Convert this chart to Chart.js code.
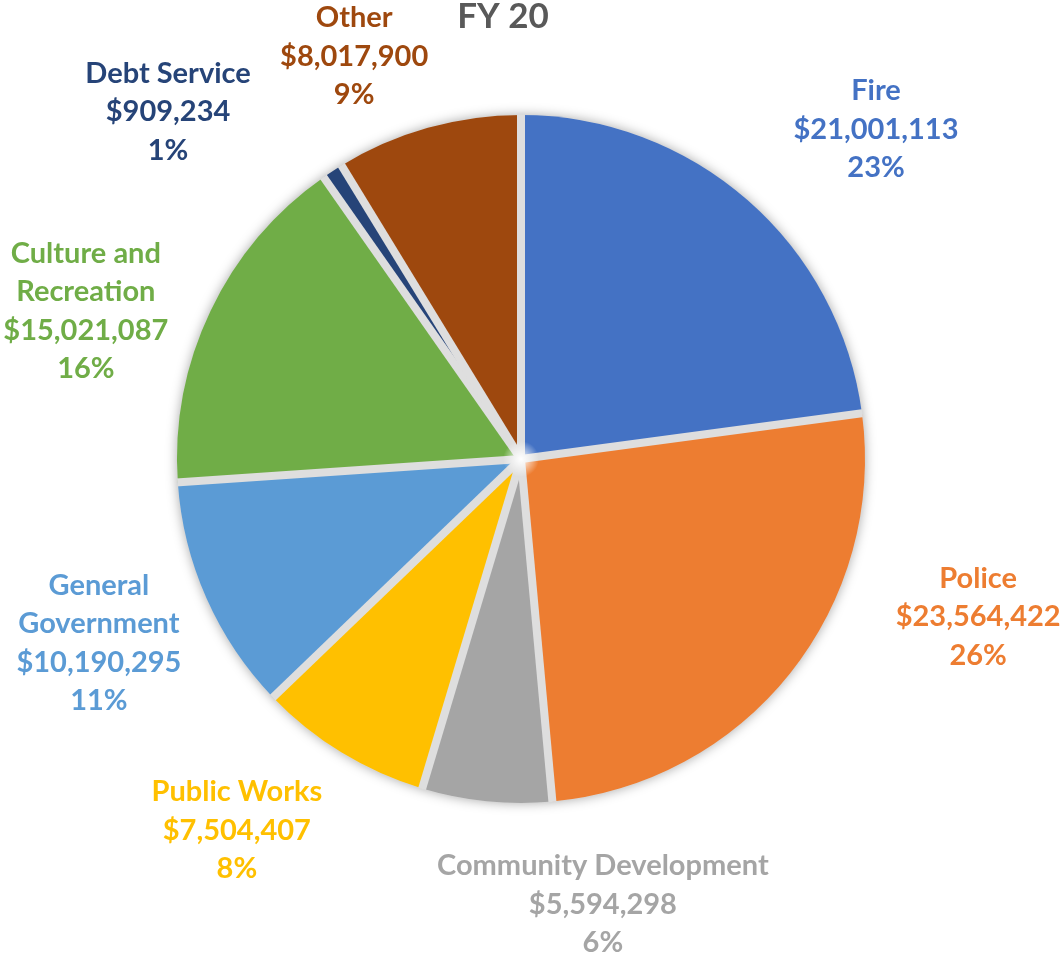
<!DOCTYPE html>
<html>
<head>
<meta charset="utf-8">
<script src="https://cdn.jsdelivr.net/npm/chart.js@4/dist/chart.umd.min.js"></script>
<style>
  html, body { margin: 0; padding: 0; background: #ffffff; }
  #wrap { width: 1061px; height: 958px; position: relative; }
</style>
</head>
<body>
<div id="wrap"><canvas id="pie"></canvas></div>
<script>
// FY 20 expenditures by function
const chartTitle = 'FY 20';
const categories = [
  ['Fire'],
  ['Police'],
  ['Community Development'],
  ['Public Works'],
  ['General', 'Government'],
  ['Culture and', 'Recreation'],
  ['Debt Service'],
  ['Other']
];
const amounts = [21001113, 23564422, 5594298, 7504407, 10190295, 15021087, 909234, 8017900];
const sliceColors = ['#4472C4', '#ED7D31', '#A5A5A5', '#FFC000', '#5B9BD5', '#70AD47', '#264478', '#9E480E'];

// label block centres, in units of the pie radius from the pie centre
const labelOffsets = [
  [1.032, -0.961],
  [1.329, 0.456],
  [0.238, 1.291],
  [-0.826, 1.076],
  [-1.227, 0.532],
  [-1.265, -0.433],
  [-1.026, -1.012],
  [-0.485, -1.174]
];

const total = amounts.reduce((a, b) => a + b, 0);
const money = v => '$' + v.toLocaleString('en-US');
const pct = v => Math.round(v / total * 100) + '%';

const LABEL_FONT = 'bold 29px Lato';
const LINE_H = 38.5;
const SEPARATOR_W = 8;

// soft shadow under the pie, and light gray separators between slices
const pieDecor = {
  id: 'pieDecor',
  beforeDatasetsDraw(chart) {
    const arc = chart.getDatasetMeta(0).data[0];
    if (!arc) return;
    const ctx = chart.ctx;
    ctx.save();
    ctx.shadowColor = 'rgba(0,0,0,0.35)';
    ctx.shadowBlur = 12;
    ctx.fillStyle = '#dedede';
    ctx.beginPath();
    ctx.arc(arc.x, arc.y, arc.outerRadius, 0, Math.PI * 2);
    ctx.fill();
    ctx.restore();
  },
  afterDatasetsDraw(chart) {
    const meta = chart.getDatasetMeta(0);
    const first = meta.data[0];
    if (!first) return;
    const ctx = chart.ctx;
    const cx = first.x, cy = first.y, r = first.outerRadius;
    ctx.save();
    ctx.beginPath();
    ctx.arc(cx, cy, r + 0.5, 0, Math.PI * 2);
    ctx.clip();
    ctx.strokeStyle = '#dedede';
    ctx.lineWidth = SEPARATOR_W;
    ctx.lineCap = 'butt';
    meta.data.forEach(arc => {
      const a = arc.startAngle;
      ctx.beginPath();
      ctx.moveTo(cx, cy);
      ctx.lineTo(cx + Math.cos(a) * (r + 4), cy + Math.sin(a) * (r + 4));
      ctx.stroke();
    });
    const g = ctx.createRadialGradient(cx, cy, 0, cx, cy, 18);
    g.addColorStop(0, 'rgba(255,255,255,1)');
    g.addColorStop(1, 'rgba(255,255,255,0)');
    ctx.fillStyle = g;
    ctx.beginPath();
    ctx.arc(cx, cy, 18, 0, Math.PI * 2);
    ctx.fill();
    ctx.restore();
  }
};

// category / amount / percent labels around the pie, plus the title
const sliceLabels = {
  id: 'sliceLabels',
  afterDraw(chart) {
    const meta = chart.getDatasetMeta(0);
    const first = meta.data[0];
    if (!first) return;
    const cx = first.x, cy = first.y, r = first.outerRadius;
    const ctx = chart.ctx;
    ctx.save();
    ctx.textAlign = 'center';
    ctx.textBaseline = 'alphabetic';
    ctx.font = LABEL_FONT;
    meta.data.forEach((arc, i) => {
      const lines = categories[i].concat([money(amounts[i]), pct(amounts[i])]);
      const bx = cx + labelOffsets[i][0] * r;
      const by = cy + labelOffsets[i][1] * r;
      ctx.fillStyle = sliceColors[i];
      lines.forEach((t, k) => {
        const capMid = by + (k - (lines.length - 1) / 2) * LINE_H;
        ctx.fillText(t, bx, capMid + 10.5);
      });
    });
    ctx.font = 'bold 35px Lato';
    ctx.fillStyle = '#595959';
    ctx.fillText(chartTitle, cx - 0.052 * r, cy - 1.29 * r + 12.5);
    ctx.restore();
  }
};

new Chart(document.getElementById('pie'), {
  type: 'pie',
  data: {
    labels: categories,
    datasets: [{
      data: amounts,
      backgroundColor: sliceColors,
      borderWidth: 0
    }]
  },
  options: {
    responsive: true,
    maintainAspectRatio: false,
    animation: false,
    layout: { padding: { top: 115, bottom: 155, left: 177, right: 196 } },
    plugins: {
      legend: { display: false },
      tooltip: { enabled: false },
      title: { display: false }
    }
  },
  plugins: [pieDecor, sliceLabels]
});
</script>
</body>
</html>
